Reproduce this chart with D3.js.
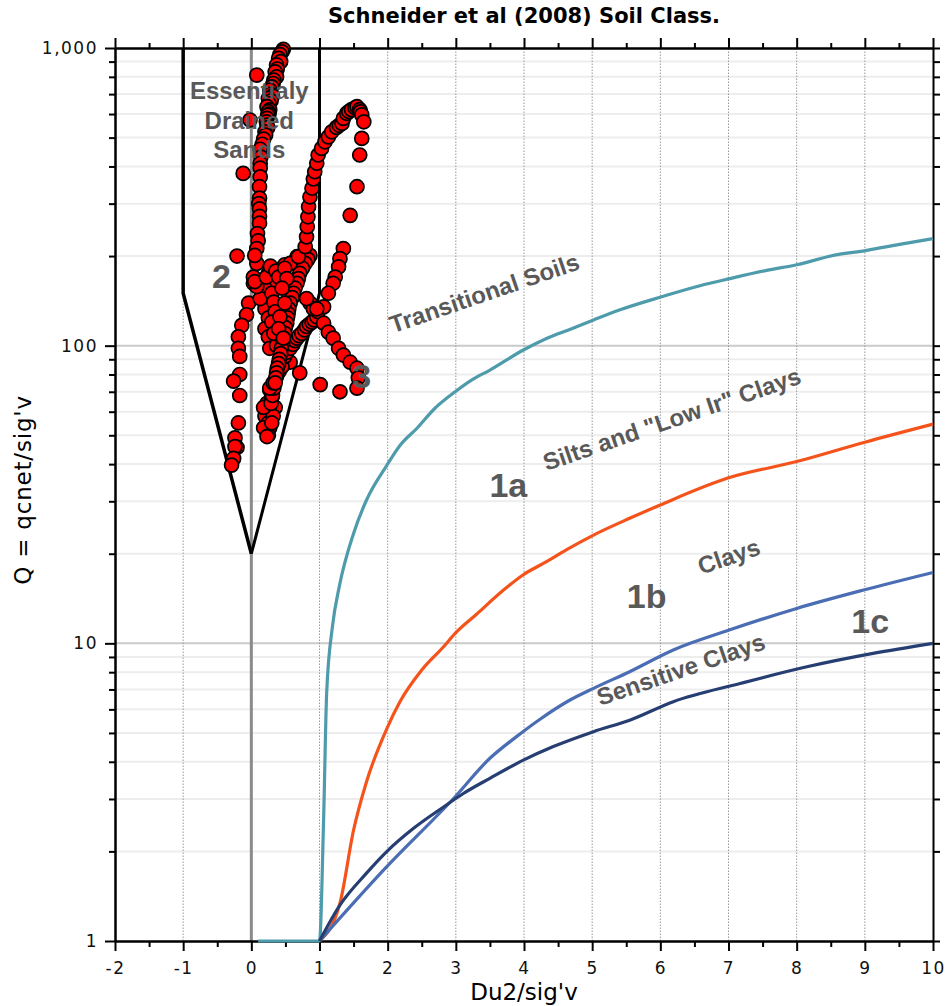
<!DOCTYPE html>
<html>
<head>
    <title>Schneider et al (2008) Soil Class.</title>
    <meta charset="utf-8" />
    <script src="https://d3js.org/d3.v7.min.js"></script>
    <style>
        body { margin: 0; background: #fff; }
        svg { display: block; }
        .axis path, .axis line { stroke: #000; stroke-width: 2; }
        .axis text {
            font-family: "DejaVu Sans", Verdana, sans-serif;
            font-size: 17px;
            fill: #111;
            letter-spacing: 1.5px;
        }
        .zone {
            font-family: "Liberation Sans", Arial, sans-serif;
            font-weight: bold;
            fill: #595959;
        }
    </style>
</head>
<body>
<script>

// ticks
let xTicks = d3.range(-2, 11);
let xMinor = d3.range(-1.5, 10, 1);
let yTicks = [1, 10, 100, 1000];
let yMinor = [];
[1, 10, 100].forEach(k => { for (let m = 2; m <= 9; m++) yMinor.push(m * k); });

// zone boundary curves [Du2/sig'v, Q]
let transitional = [[0.1, 1], [1, 1], [1.06, 2.55], [1.105, 6.8], [1.19, 11.4], [1.29, 15.5],
    [1.5, 23.4], [1.69, 30.3], [1.99, 39.7], [2.18, 46.2], [2.43, 52.8], [2.69, 61.5],
    [2.99, 70], [3.23, 76.6], [3.5, 82.8], [3.99, 96.7], [4.33, 105.7], [4.7, 114],
    [5.02, 122], [5.41, 132], [6.02, 146], [6.58, 159], [7.02, 168], [7.56, 179],
    [8.0, 187], [8.54, 201], [9.03, 209], [9.51, 219], [10, 229]];
let siltsLine = [[1, 1], [1.3, 1.34], [1.5, 2.36], [1.69, 3.43], [1.99, 5.18], [2.18, 6.36],
    [2.5, 8.13], [2.82, 9.74], [2.99, 10.8], [3.3, 12.5], [3.7, 15.1], [3.99, 17.0],
    [4.33, 18.8], [4.62, 20.6], [5.02, 23.1], [5.55, 26.3], [5.99, 29.1], [6.99, 35.9],
    [8.0, 40.8], [9.0, 47.4], [10, 54.5]];
let claysLine = [[1, 1], [1.98, 1.77], [2.96, 3.0], [3.5, 4.11], [3.89, 4.86], [4.23, 5.55],
    [4.675, 6.45], [5.02, 7.06], [5.55, 8.03], [6.19, 9.5], [7.02, 11.1], [8.0, 13.1],
    [8.98, 15.1], [10, 17.3]];
let sensitiveLine = [[1, 1], [1.3, 1.32], [1.69, 1.69], [1.99, 2.0], [2.38, 2.39], [2.82, 2.82],
    [3.11, 3.13], [3.5, 3.52], [3.99, 4.05], [4.43, 4.5], [5.02, 5.05], [5.55, 5.52],
    [6.19, 6.37], [7.17, 7.33], [8.15, 8.34], [9.12, 9.25], [10, 10]];

let drainedLeft = [[-1, 1000], [-1, 150], [0, 20]];
let drainedRight = [[1, 1000], [1, 150], [0, 20]];
let zeroLine = [[0, 1000], [0, 1]];

// CPT data points [Du2/sig'v, Q]
let sandsTop = [[0.47, 990], [0.45, 971], [0.42, 950], [0.40, 923], [0.43, 900], [0.37, 877],
    [0.38, 850], [0.35, 832], [0.37, 800], [0.33, 780], [0.32, 760], [0.30, 740], [0.27, 722],
    [0.28, 700], [0.31, 690], [0.25, 677], [0.29, 665], [0.26, 650], [0.23, 635], [0.27, 620],
    [0.25, 611], [0.26, 600], [0.24, 595], [0.23, 580], [0.22, 565], [0.23, 551], [0.24, 540],
    [0.20, 523], [0.21, 510], [0.18, 494], [0.16, 475], [0.13, 457], [0.14, 430], [0.13, 410],
    [0.13, 395], [0.13, 369], [0.12, 342], [0.12, 313], [0.11, 300], [0.12, 288], [0.12, 272],
    [0.12, 258], [0.09, 238], [0.10, 225], [0.08, 212], [0.08, 189], [0.05, 168], [0.03, 162]];
let arcRight = [[0.69, 199], [0.79, 215], [0.81, 232], [0.82, 251], [0.83, 271], [0.84, 293],
    [0.86, 316], [0.89, 338], [0.91, 363], [0.93, 384], [0.96, 410], [0.98, 437], [1.03, 460],
    [1.08, 484], [1.13, 503], [1.18, 523], [1.25, 541], [1.29, 550], [1.33, 558], [1.35, 580],
    [1.40, 603], [1.43, 612], [1.47, 621], [1.52, 630], [1.55, 635], [1.59, 621], [1.60, 610],
    [1.62, 596], [1.65, 565], [1.62, 497], [1.59, 437], [1.55, 342], [1.45, 274], [1.35, 212],
    [1.30, 196], [1.28, 184], [1.23, 170], [1.20, 162], [1.13, 150], [1.06, 135], [0.96, 133]];
let junction = [[0.86, 139], [0.91, 133], [0.98, 130], [0.81, 144]];
let branch3 = [[1.06, 119], [1.13, 111], [1.20, 106], [1.28, 98], [1.35, 93], [1.45, 88],
    [1.55, 84], [1.57, 78], [1.55, 72]];
let lowerDiag = [[0.27, 72], [0.32, 75], [0.37, 79], [0.41, 82], [0.45, 85], [0.49, 92],
    [0.52, 95], [0.57, 98], [0.61, 101], [0.64, 104], [0.67, 106], [0.70, 108], [0.74, 110],
    [0.78, 113], [0.81, 116], [0.85, 118], [0.89, 120], [0.92, 122], [0.96, 125]];
let lowerCluster = [[0.23, 64], [0.25, 62], [0.20, 58], [0.25, 55], [0.27, 53], [0.25, 50],
    [0.30, 67], [0.35, 62], [0.32, 58], [0.27, 71], [0.18, 62], [0.18, 53], [0.23, 49.5], [0.30, 55],
    [0.29, 64], [0.31, 68], [0.33, 72]];
let centralBand = [[0.86, 201], [0.83, 195], [0.79, 189], [0.75, 182], [0.71, 175], [0.69, 168],
    [0.67, 162], [0.64, 156], [0.62, 150], [0.60, 145], [0.57, 139], [0.55, 133], [0.54, 128],
    [0.53, 124], [0.52, 119], [0.50, 115], [0.49, 110], [0.47, 106], [0.46, 102], [0.44, 98],
    [0.43, 94], [0.41, 90], [0.40, 87], [0.38, 84], [0.37, 81], [0.36, 78], [0.35, 75],
    [0.67, 199], [0.57, 189], [0.49, 182], [0.52, 168], [0.45, 156], [0.49, 139],
    [0.42, 125], [0.40, 114], [0.47, 106]];
let leftBand = [[0.25, 175], [0.32, 168], [0.27, 162], [0.20, 156], [0.25, 144], [0.20, 133],
    [0.25, 124], [0.20, 114], [0.25, 107], [0.27, 98], [0.37, 100], [0.13, 144], [0.08, 158],
    [0.05, 164], [0.45, 182], [0.49, 187], [0.57, 88], [0.30, 150], [0.33, 140], [0.35, 130],
    [0.30, 120], [0.33, 110], [0.22, 170], [0.28, 185], [0.36, 178], [0.40, 170]];
let leftColumn = [[0.05, 201], [0.03, 170], [0.08, 160], [-0.04, 139], [-0.07, 127], [-0.14, 117],
    [-0.19, 107], [-0.19, 98], [-0.17, 92], [-0.17, 80], [-0.26, 76], [-0.17, 68], [-0.19, 55],
    [-0.24, 49], [-0.21, 45.5], [-0.24, 45.8], [-0.26, 41.8], [-0.29, 39.7]];
let loosePoints = [[0.08, 811], [-0.02, 573], [-0.12, 379], [-0.21, 200], [1.01, 74], [1.30, 70], [0.71, 81]];

let W = 946, H = 1006;
let margin = { top: 48, right: 13, bottom: 65, left: 115 };

let x = d3.scaleLinear().domain([-2, 10]).range([margin.left, W - margin.right]);
let y = d3.scaleLog().domain([1, 1000]).range([H - margin.bottom, margin.top]);

let svg = d3.select("body").append("svg")
    .attr("width", W)
    .attr("height", H);

// grid
let grid = svg.append("g");
grid.selectAll("line.hmin")
    .data(yMinor)
    .enter().append("line")
    .attr("x1", x(-2)).attr("x2", x(10))
    .attr("y1", d => y(d)).attr("y2", d => y(d))
    .attr("stroke", "#ededed").attr("stroke-width", 2);
grid.selectAll("line.hmaj")
    .data([10, 100])
    .enter().append("line")
    .attr("x1", x(-2)).attr("x2", x(10))
    .attr("y1", d => y(d)).attr("y2", d => y(d))
    .attr("stroke", "#cacaca").attr("stroke-width", 2);
grid.selectAll("line.v")
    .data(d3.range(-1, 10))
    .enter().append("line")
    .attr("x1", d => x(d)).attr("x2", d => x(d))
    .attr("y1", y(1)).attr("y2", y(1000))
    .attr("stroke", "#999").attr("stroke-width", 1)
    .attr("stroke-dasharray", "1.5,1.5");

let line = d3.line().x(d => x(d[0])).y(d => y(d[1]));
let smooth = d3.line().x(d => x(d[0])).y(d => y(d[1])).curve(d3.curveMonotoneX);

svg.append("path").attr("d", line(zeroLine))
    .attr("fill", "none").attr("stroke", "#8a8a8a").attr("stroke-width", 3);

// axes
function drawAxis(axis, tx, ty) {
    return svg.append("g")
        .attr("class", "axis")
        .attr("transform", "translate(" + tx + "," + ty + ")")
        .call(axis);
}
drawAxis(d3.axisBottom(x).tickValues(xTicks).tickSize(10).tickSizeOuter(0).tickPadding(11)
    .tickFormat(d => String(d)), 0, y(1));
drawAxis(d3.axisBottom(x).tickValues(xMinor).tickSize(6).tickSizeOuter(0).tickFormat(""), 0, y(1));
drawAxis(d3.axisTop(x).tickValues(xTicks).tickSize(10).tickSizeOuter(0).tickFormat(""), 0, y(1000));
drawAxis(d3.axisTop(x).tickValues(xMinor).tickSize(5).tickSizeOuter(0).tickFormat(""), 0, y(1000));
drawAxis(d3.axisLeft(y).tickValues(yTicks).tickSize(10).tickSizeOuter(0).tickPadding(7)
    .tickFormat(d3.format(",")), x(-2), 0);
drawAxis(d3.axisLeft(y).tickValues(yMinor).tickSize(6).tickSizeOuter(0).tickFormat(""), x(-2), 0);
drawAxis(d3.axisRight(y).tickValues(yTicks.concat(yMinor)).tickSize(7).tickSizeOuter(0).tickFormat(""), x(10), 0);

// zone boundaries
svg.append("path").attr("d", line(drainedLeft))
    .attr("fill", "none").attr("stroke", "#000").attr("stroke-width", 3.5);
svg.append("path").attr("d", line(drainedRight))
    .attr("fill", "none").attr("stroke", "#000").attr("stroke-width", 3);

let curves = [
    { data: transitional, color: "#4e9bab" },
    { data: siltsLine, color: "#f5531c" },
    { data: claysLine, color: "#4a6db3" },
    { data: sensitiveLine, color: "#263e72" }
];
svg.selectAll("path.curve")
    .data(curves)
    .enter().append("path")
    .attr("class", "curve")
    .attr("d", d => smooth(d.data))
    .attr("fill", "none")
    .attr("stroke", d => d.color)
    .attr("stroke-width", 3.2)
    .attr("stroke-linejoin", "round");

// data points
let points = [].concat(sandsTop, leftColumn, leftBand, lowerCluster, lowerDiag, centralBand,
    junction, branch3, arcRight, loosePoints);
svg.selectAll("circle")
    .data(points)
    .enter().append("circle")
    .attr("cx", d => x(d[0]))
    .attr("cy", d => y(d[1]))
    .attr("r", 7)
    .attr("fill", "#ff0000")
    .attr("stroke", "#000")
    .attr("stroke-width", 1.7);

// zone labels
let sandsText = svg.append("text").attr("class", "zone")
    .attr("font-size", 24).attr("text-anchor", "middle");
["Essentialy", "Drained", "Sands"].forEach((t, i) => {
    sandsText.append("tspan")
        .attr("x", x(-0.03))
        .attr("y", y(673) + i * 29.5)
        .text(t);
});

let zoneNums = [
    { t: "2", at: [-0.44, 156] },
    { t: "3", at: [1.62, 72] },
    { t: "1a", at: [3.77, 31] },
    { t: "1b", at: [5.80, 13.1] },
    { t: "1c", at: [9.08, 10.8] }
];
svg.selectAll("text.num")
    .data(zoneNums)
    .enter().append("text")
    .attr("class", "zone num")
    .attr("font-size", 34)
    .attr("text-anchor", "middle")
    .attr("x", d => x(d.at[0]))
    .attr("y", d => y(d.at[1]))
    .text(d => d.t);

let zoneNames = [
    { t: "Transitional Soils", at: [2.08, 110] },
    { t: "Silts and \"Low Ir\" Clays", at: [4.33, 37.9] },
    { t: "Clays", at: [6.60, 17.0] },
    { t: "Sensitive Clays", at: [5.12, 6.16] }
];
svg.selectAll("text.name")
    .data(zoneNames)
    .enter().append("text")
    .attr("class", "zone name")
    .attr("font-size", 24)
    .attr("transform", d => "translate(" + x(d.at[0]) + "," + y(d.at[1]) + ") rotate(-19)")
    .text(d => d.t);

// titles
svg.append("text")
    .attr("x", (x(-2) + x(10)) / 2)
    .attr("y", 23)
    .attr("text-anchor", "middle")
    .style("font-family", "'DejaVu Sans', Verdana, sans-serif")
    .style("font-weight", "bold")
    .style("font-size", "21px")
    .text("Schneider et al (2008) Soil Class.");

svg.append("text")
    .attr("x", (x(-2) + x(10)) / 2)
    .attr("y", 1000)
    .attr("text-anchor", "middle")
    .style("font-family", "'DejaVu Sans', Verdana, sans-serif")
    .style("font-size", "23px")
    .text("Du2/sig'v");

svg.append("text")
    .attr("transform", "translate(31,490) rotate(-90)")
    .attr("text-anchor", "middle")
    .style("font-family", "'DejaVu Sans', Verdana, sans-serif")
    .style("font-size", "23px")
    .style("letter-spacing", "0.8px")
    .text("Q = qcnet/sig'v");

</script>
</body>
</html>
